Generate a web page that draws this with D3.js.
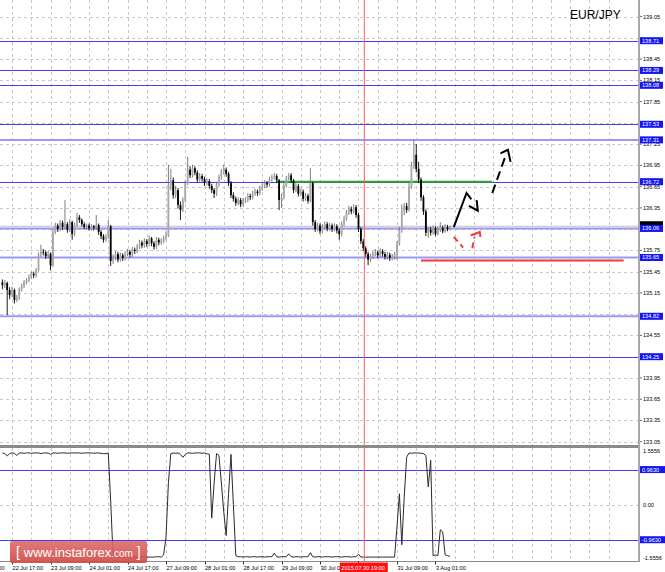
<!DOCTYPE html>
<html><head><meta charset="utf-8">
<script src="https://cdn.jsdelivr.net/npm/d3@7"></script>
<style>body{margin:0;background:#fff}svg{display:block}text{font-family:"Liberation Sans",Arial,sans-serif}</style>
</head><body><svg id="c" width="665" height="572"></svg>
<script>
const symbol = "EUR/JPY";
const firstOpen = 135.30;
const closes = [135.26,135.29,135.19,135.12,135.19,135.05,135.08,135.20,135.25,135.30,
135.33,135.38,135.42,135.40,135.47,135.69,135.73,135.72,135.67,135.70,
135.54,136.01,136.10,136.05,136.14,136.08,136.12,136.04,136.15,135.98,
136.11,136.22,136.18,136.12,136.08,136.10,136.06,136.09,136.07,136.11,
136.01,135.95,135.90,135.94,136.09,135.60,135.65,135.70,135.62,135.68,
135.64,135.70,135.73,135.69,135.76,135.74,135.80,135.86,135.82,135.88,
135.84,135.92,135.85,135.80,135.90,135.86,135.88,135.92,135.96,136.67,
136.74,136.53,136.60,136.39,136.32,136.46,136.70,136.89,136.81,136.91,
136.85,136.75,136.80,136.76,136.70,136.73,136.66,136.60,136.55,136.68,
136.78,136.86,136.89,136.83,136.70,136.53,136.48,136.42,136.46,136.40,
136.45,136.46,136.52,136.50,136.55,136.58,136.56,136.62,136.66,136.70,
136.68,136.75,136.78,136.80,136.74,136.46,136.50,136.67,136.77,136.81,
136.74,136.60,136.66,136.55,136.58,136.48,136.52,136.45,136.70,136.15,
136.05,136.10,136.02,136.08,136.12,136.06,136.10,136.05,136.09,136.03,
135.98,136.12,136.20,136.28,136.33,136.30,136.36,136.25,136.05,135.88,
135.78,135.70,135.62,135.66,135.70,135.72,135.68,135.74,135.70,135.66,
135.69,135.64,135.66,135.70,135.85,136.04,136.30,136.38,136.32,136.65,
136.95,137.10,136.90,136.75,136.50,136.30,136.00,136.04,136.00,136.06,
135.98,136.04,136.07,136.02,136.08,136.05,136.07];
const highs = [135.34,135.33,135.31,135.23,135.24,135.21,135.12,135.23,135.28,135.33,
135.36,135.41,135.45,135.45,135.50,135.72,135.83,135.77,135.75,135.74,
135.72,136.05,136.14,136.13,136.18,136.17,136.46,136.15,136.19,136.17,
136.14,136.28,136.25,136.20,136.15,136.13,136.13,136.12,136.11,136.25,
136.13,136.04,135.98,135.98,136.18,136.11,135.69,135.74,135.73,135.72,
135.71,135.74,135.77,135.76,135.80,135.79,135.84,135.90,135.89,135.92,
135.91,135.96,135.94,135.88,135.94,135.93,135.92,135.96,136.02,136.96,
136.90,136.78,136.66,136.63,136.44,136.50,136.74,137.07,136.94,136.96,
136.94,136.88,136.84,136.83,136.79,136.77,136.76,136.69,136.63,136.72,
136.82,136.90,136.96,136.92,136.86,136.73,136.57,136.51,136.50,136.49,
136.49,136.50,136.56,136.55,136.59,136.62,136.61,136.66,136.70,136.74,
136.73,136.79,136.82,136.84,136.83,136.76,136.55,136.71,136.80,136.84,
136.84,136.76,136.70,136.69,136.62,136.61,136.56,136.55,136.91,136.72,
136.18,136.14,136.13,136.12,136.16,136.15,136.14,136.13,136.13,136.12,
136.06,136.16,136.24,136.32,136.38,136.37,136.40,136.39,136.28,136.08,
135.91,135.81,135.73,135.70,135.74,135.77,135.75,135.78,135.77,135.73,
135.73,135.72,135.70,135.73,135.88,136.08,136.40,136.42,136.42,136.70,
137.00,137.31,137.25,137.00,136.78,136.53,136.33,136.08,136.08,136.10,
136.09,136.08,136.15,136.10,136.12,136.11,136.10];
const lows = [135.20,135.22,134.84,135.06,135.09,135.00,135.02,135.05,135.17,135.22,
135.27,135.30,135.35,135.36,135.37,135.45,135.66,135.68,135.63,135.64,
135.47,135.52,135.98,136.01,136.02,136.04,136.05,136.00,136.01,135.90,
135.95,136.08,136.14,136.09,136.05,136.05,136.03,136.03,136.03,136.04,
135.97,135.91,135.86,135.87,135.91,135.53,135.56,135.61,135.58,135.59,
135.60,135.61,135.67,135.65,135.66,135.70,135.71,135.77,135.78,135.79,
135.80,135.81,135.81,135.76,135.77,135.82,135.83,135.85,135.89,135.94,
136.60,136.48,136.49,136.34,136.18,136.29,136.43,136.67,136.77,136.78,
136.81,136.71,136.72,136.72,136.66,136.67,136.62,136.56,136.49,136.52,
136.65,136.75,136.82,136.79,136.66,136.49,136.44,136.38,136.39,136.36,
136.37,136.42,136.43,136.46,136.47,136.52,136.52,136.53,136.59,136.63,
136.64,136.65,136.72,136.75,136.70,136.32,136.35,136.47,136.64,136.74,
136.70,136.56,136.57,136.51,136.52,136.44,136.45,136.41,136.43,136.10,
136.01,136.02,135.98,135.99,136.05,136.02,136.03,136.01,136.02,135.99,
135.90,135.95,136.09,136.17,136.25,136.26,136.27,136.21,136.01,135.84,
135.74,135.66,135.54,135.59,135.63,135.67,135.64,135.65,135.66,135.62,
135.62,135.60,135.61,135.62,135.62,135.82,136.00,136.25,136.28,136.30,
136.62,136.90,136.85,136.70,136.45,136.25,135.95,135.93,135.96,135.97,
135.95,135.96,136.01,135.99,136.00,136.02,136.03];
const indicator = [1.42,1.40,1.34,1.40,1.42,1.41,1.35,1.42,1.42,1.41,
1.42,1.42,1.41,1.42,1.42,1.42,1.40,1.42,1.42,1.42,
1.38,1.42,1.42,1.41,1.42,1.42,1.42,1.41,1.42,1.42,
1.42,1.42,1.42,1.41,1.42,1.42,1.42,1.42,1.41,1.42,
1.42,1.41,1.40,1.40,1.42,0.10,-1.42,-1.43,-1.44,-1.44,
-1.43,-1.44,-1.44,-1.44,-1.43,-1.44,-1.44,-1.44,-1.44,-1.43,
-1.44,-1.44,-1.44,-1.44,-1.43,-1.43,-1.44,-1.38,-0.90,0.60,
1.40,1.42,1.41,1.42,1.38,1.30,1.38,1.42,1.42,1.41,
1.42,1.42,1.42,1.41,1.42,1.40,1.38,-0.37,0.60,1.40,
1.35,0.60,-0.20,-0.85,0.30,1.38,0.00,-1.40,-1.43,-1.43,
-1.44,-1.43,-1.43,-1.44,-1.43,-1.43,-1.44,-1.43,-1.43,-1.44,
-1.43,-1.43,-1.43,-1.33,-1.43,-1.44,-1.43,-1.43,-1.43,-1.35,
-1.43,-1.44,-1.43,-1.43,-1.44,-1.43,-1.43,-1.43,-1.32,-1.43,
-1.44,-1.43,-1.43,-1.44,-1.43,-1.43,-1.43,-1.44,-1.43,-1.43,
-1.43,-1.44,-1.43,-1.43,-1.43,-1.44,-1.43,-1.43,-1.36,-1.44,
-1.44,-1.44,-1.44,-1.44,-1.44,-1.44,-1.44,-1.44,-1.44,-1.44,
-1.44,-1.44,-1.44,-1.44,-0.60,0.30,-1.10,0.20,1.30,1.42,
1.41,1.42,1.42,1.42,1.41,1.40,1.35,0.49,1.22,-1.40,
-1.38,-1.40,-0.69,-0.75,-1.38,-1.40,-1.42];
const priceTicks = [139.05,138.75,138.45,138.15,137.85,137.55,137.25,136.95,136.65,136.35,136.05,135.75,135.45,135.15,134.85,134.55,134.25,133.95,133.65,133.35,133.05];
const levelPrices = [138.71,138.29,138.08,137.53,137.31,136.72,136.06,135.65,134.82,134.25];
const lightLevels = [137.31,136.06,135.65,134.82];
const indTicks = [1.5556,0.00,-1.5556];
const indLevels = [0.9630,-0.9630];
const timeTickLabels = ["22 Jul 01:00","22 Jul 17:00","23 Jul 09:00","24 Jul 01:00","24 Jul 17:00","27 Jul 09:00","28 Jul 01:00","28 Jul 17:00","29 Jul 09:00","30 Jul 01:00","30 Jul 17:00","31 Jul 09:00","3 Aug 01:00"];
const dataStart = "22 Jul 13:00";
const markerTime = "2015.07.30 19:00";
const currentPriceLabel = "136.10";
const greenLevel = {price:136.72, from:"29 Jul 07:00", toBar:215.5};
const redLevel = {price:135.63, toBar:270.2};
// forecast sketches: [hour index, price]
const blackPath = [[199.6,136.08],[204.9,136.56],[206.9,136.47]];
const blackHead = [[205.9,136.38],[209.6,136.31],[209.1,136.46]];
const blackDashed = [[215.6,136.56],[221.5,137.12]];
const blackDashedHead = [[219.0,137.12],[222.1,137.17],[223.2,137.00]];
const redDash1 = [[199.6,135.94],[203.5,135.79]];
const redDash2 = [[207.3,135.78],[208.2,135.94]];
const redHead = [[206.6,135.96],[210.4,136.01],[210.7,135.94]];

// ---- time axis (trading hours, weekends removed)
const fmt = d3.timeFormat("%-d %b %H:%M");
const fmtFull = d3.timeFormat("%Y.%m.%d %H:%M");
const hours = d3.timeHour.range(new Date(2015,6,22,1), new Date(2015,7,4,0)).filter(d => d.getDay()!==0 && d.getDay()!==6);
const hIdx = s => hours.findIndex(d => fmt(d) === s);
const startH = hIdx(dataStart);
const bars = closes.map((c,i)=>({h:startH+i, o: i?closes[i-1]:firstOpen, c, hi:highs[i], lo:lows[i]}));

const W=665, plotR=638, mainTop=0, mainBot=445, indTop=448, indBot=561.5;
const x = d3.scaleLinear().domain([11, 11+plotR/2.406]).range([0, plotR]);
const y = d3.scaleLinear().domain([133.05,139.05]).range([441.7,16.6]);
const yi = d3.scaleLinear().domain([-1.5556,1.5556]).range([561.3,448.0]);

const svg = d3.select("#c");
const defs = svg.append("defs");
defs.append("clipPath").attr("id","cm").append("rect").attr("x",0).attr("y",mainTop).attr("width",plotR).attr("height",mainBot-mainTop);
defs.append("clipPath").attr("id","ci").append("rect").attr("x",0).attr("y",indTop).attr("width",plotR).attr("height",indBot-indTop);
const gr = defs.append("linearGradient").attr("id","wm").attr("x1",0).attr("x2",0).attr("y1",0).attr("y2",1);
gr.append("stop").attr("offset","0").attr("stop-color","#e06e6c");
gr.append("stop").attr("offset","1").attr("stop-color","#cf4a48");

svg.append("rect").attr("width",W).attr("height",572).attr("fill","#fff");

const gm = svg.append("g").attr("clip-path","url(#cm)");
const gi = svg.append("g").attr("clip-path","url(#ci)");

// vertical grid every 8 trading hours
const gridH = d3.range(0, 270, 8);
[ [gm, mainTop, mainBot], [gi, indTop, indBot] ].forEach(([g,t,b])=>{
  g.selectAll(null).data(gridH).join("line")
    .attr("x1",d=>Math.round(x(d))+0.5).attr("x2",d=>Math.round(x(d))+0.5)
    .attr("y1",t).attr("y2",b).attr("stroke","#c8c8c8").attr("stroke-dasharray","3,3");
});
// horizontal grid
gm.selectAll(null).data(priceTicks).join("line")
  .attr("x1",0).attr("x2",plotR).attr("y1",d=>Math.round(y(d))+0.5).attr("y2",d=>Math.round(y(d))+0.5)
  .attr("stroke","#c8c8c8").attr("stroke-dasharray","3,3");
gi.append("line").attr("x1",0).attr("x2",plotR).attr("y1",Math.round(yi(0))+0.5).attr("y2",Math.round(yi(0))+0.5)
  .attr("stroke","#c8c8c8").attr("stroke-dasharray","3,3");

// level lines
gm.selectAll(null).data(levelPrices).join("line")
  .attr("x1",0).attr("x2",plotR)
  .attr("y1",d=>lightLevels.includes(d)?y(d):Math.round(y(d))+0.5).attr("y2",d=>lightLevels.includes(d)?y(d):Math.round(y(d))+0.5)
  .attr("stroke",d=>lightLevels.includes(d)?"#9a9af5":"#4040ee")
  .attr("stroke-width",d=>lightLevels.includes(d)?2:1);
// current price line
const last = closes[closes.length-1];
gm.append("line").attr("x1",0).attr("x2",plotR).attr("y1",y(last)-1.5).attr("y2",y(last)-1.5).attr("stroke","#c0c0c0").attr("stroke-width",1);

// green horizontal annotation
const greenFromH = hIdx(greenLevel.from);
gm.append("line").attr("x1",x(greenFromH)).attr("x2",x(greenLevel.toBar)).attr("y1",y(greenLevel.price)).attr("y2",y(greenLevel.price)).attr("stroke","#2fa32f").attr("stroke-width",2);

// marker vertical line
const markerH = hours.findIndex(d=>fmtFull(d)===markerTime);
svg.append("line").attr("x1",x(markerH)+1).attr("x2",x(markerH)+1).attr("y1",0).attr("y2",indBot).attr("stroke","#ff5a5a").attr("stroke-width",1);

// candles
const cg = gm.append("g");
cg.selectAll("line").data(bars).join("line")
  .attr("x1",d=>x(d.h)).attr("x2",d=>x(d.h)).attr("y1",d=>y(d.hi)).attr("y2",d=>y(d.lo))
  .attr("stroke",d=>d.c>=d.o?"#6e6e6e":"#000").attr("stroke-width",0.9);
cg.selectAll("rect").data(bars).join("rect")
  .attr("x",d=>x(d.h)-0.9).attr("width",1.8)
  .attr("y",d=>y(Math.max(d.o,d.c))).attr("height",d=>Math.max(0.8, Math.abs(y(d.o)-y(d.c))))
  .attr("fill",d=>d.c>=d.o?"#a8a8a8":"#000");

// red level line
const redFromH = startH + closes.length - 13;
gm.append("line").attr("x1",x(redFromH)).attr("x2",x(redLevel.toBar)).attr("y1",y(redLevel.price)+1.5).attr("y2",y(redLevel.price)+1.5).attr("stroke","#f03a3a").attr("stroke-width",2);

// forecast sketches
const ln = d3.line().x(d=>x(d[0])).y(d=>y(d[1]));
gm.append("path").attr("d",ln(blackPath)).attr("fill","none").attr("stroke","#000").attr("stroke-width",2);
gm.append("path").attr("d",ln(blackHead)).attr("fill","none").attr("stroke","#000").attr("stroke-width",2);
gm.append("path").attr("d",ln(blackDashed)).attr("fill","none").attr("stroke","#000").attr("stroke-width",2).attr("stroke-dasharray","9,5");
gm.append("path").attr("d",ln(blackDashedHead)).attr("fill","none").attr("stroke","#000").attr("stroke-width",2);
[redDash1, redDash2].forEach(p=>gm.append("path").attr("d",ln(p)).attr("fill","none").attr("stroke","#f03a3a").attr("stroke-width",2).attr("stroke-dasharray","6,4"));
gm.append("path").attr("d",ln(redHead)).attr("fill","none").attr("stroke","#f03a3a").attr("stroke-width",2);

// indicator
gi.selectAll(null).data(indLevels).join("line").attr("x1",0).attr("x2",plotR).attr("y1",d=>Math.round(yi(d))+0.5).attr("y2",d=>Math.round(yi(d))+0.5).attr("stroke","#4040ee").attr("stroke-width",1);
gi.append("path").attr("d", d3.line().x((d,i)=>x(startH+i)).y(d=>yi(d))(indicator)).attr("fill","none").attr("stroke","#2a2a2a").attr("stroke-width",1);

// separators and axes frame
svg.append("rect").attr("x",0).attr("y",mainBot).attr("width",plotR+2).attr("height",indTop-mainBot).attr("fill","#8a8a8a");
svg.append("line").attr("x1",0).attr("x2",plotR+2).attr("y1",indBot).attr("y2",indBot).attr("stroke","#8a8a8a").attr("stroke-width",1);
svg.append("line").attr("x1",plotR+1).attr("x2",plotR+1).attr("y1",0).attr("y2",indBot).attr("stroke","#a8a8a8").attr("stroke-width",2);

// price axis labels (those fully hidden under a level box are not drawn)
const fs = 5.6;
const ax = svg.append("g").attr("font-size",fs);
const visibleTicks = priceTicks.filter(t => !levelPrices.some(l => Math.abs(y(t)-y(l)) < 3.2));
ax.selectAll(null).data(visibleTicks).join("text").attr("x",643).attr("y",d=>y(d)+2).text(d=>d.toFixed(2)).attr("fill","#000");
ax.selectAll(null).data(priceTicks).join("line").attr("x1",plotR+2).attr("x2",plotR+4).attr("y1",d=>y(d)).attr("y2",d=>y(d)).attr("stroke","#000").attr("stroke-width",0.6);
// current price black label (mostly covered by the 136.06 box)
ax.append("rect").attr("x",640).attr("y",y(last)-6.5).attr("width",23).attr("height",7).attr("fill","#000");
// level boxes
const lb = ax.selectAll(null).data(levelPrices).join("g");
lb.append("rect").attr("x",640).attr("y",d=>y(d)-3.5).attr("width",23).attr("height",7).attr("fill","#1515f5");
lb.append("text").attr("x",642).attr("y",d=>y(d)+2).attr("fill","#fff").text(d=>d.toFixed(2));
// indicator labels
ax.selectAll(null).data(indTicks).join("text").attr("x",643).attr("y",(d,i)=>yi(d)+(i===0?5:(i===2?-1:2))).text(d=>d===0?"0.00":d.toFixed(4));
const ib = ax.selectAll(null).data(indLevels).join("g");
ib.append("rect").attr("x",640).attr("y",d=>yi(d)-3.5).attr("width",25).attr("height",7).attr("fill","#1515f5");
ib.append("text").attr("x",642).attr("y",d=>yi(d)+2).attr("fill","#fff").text(d=>d.toFixed(4));

// time axis labels
const markerH0 = markerH;
const boxX0 = x(markerH0)-23.5, boxX1 = boxX0+48;
const tx = svg.append("g").attr("font-size",fs);
timeTickLabels.forEach(s=>{
  const h = hIdx(s);
  tx.append("line").attr("x1",Math.round(x(h))+0.5).attr("x2",Math.round(x(h))+0.5).attr("y1",indBot).attr("y2",indBot+3).attr("stroke","#000").attr("stroke-width",0.8);
  if (x(h) >= boxX0 && x(h) < boxX1) return; // hidden under the marker label
  tx.append("text").attr("x",x(h)+0.5).attr("y",569.5).text(s);
});
// marker label
tx.append("rect").attr("x",boxX0).attr("y",562.5).attr("width",48).attr("height",9.5).attr("fill","#ff1010");
tx.append("text").attr("x",boxX0+1.5).attr("y",569.5).attr("fill","#fff").text(markerTime);

// title
svg.append("text").attr("x",570).attr("y",19).attr("font-size",12).attr("fill","#000").text(symbol);

// watermark
const wm = svg.append("g");
wm.append("rect").attr("x",10).attr("y",541).attr("width",137).attr("height",22).attr("rx",2).attr("fill","url(#wm)").attr("opacity",0.92);
const wt = wm.append("text").attr("x",16).attr("y",557).attr("fill","#fff");
wt.append("tspan").attr("font-size",14).text("[ ");
wt.append("tspan").attr("font-size",13).text("www.instaforex");
wt.append("tspan").attr("font-size",10).text(".com");
wt.append("tspan").attr("font-size",14).text(" ]");
</script></body></html>
